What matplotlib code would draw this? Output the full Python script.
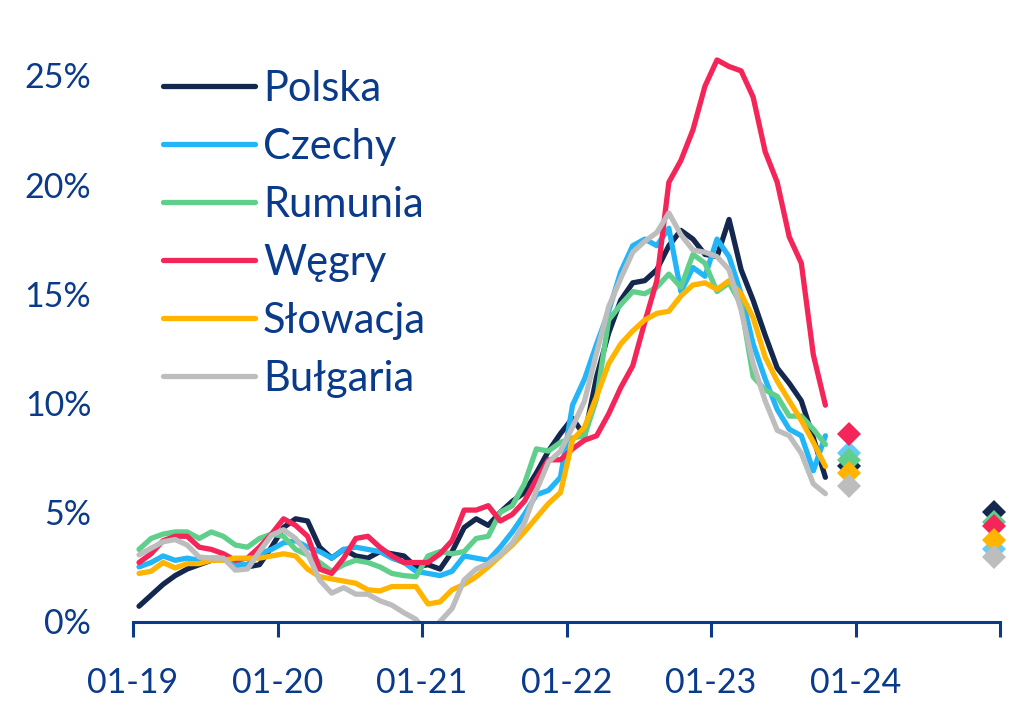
import matplotlib
matplotlib.use('Agg')
import matplotlib.pyplot as plt

plt.rcParams['font.family'] = ['Lato', 'DejaVu Sans']

# inflacja r/r w %, miesiecznie od 01-2019 do 10-2023
kraje = ['Polska', 'Czechy', 'Rumunia', 'Węgry', 'Słowacja', 'Bułgaria']

polska = [0.7, 1.2, 1.7, 2.1, 2.4, 2.6, 2.8, 2.9, 2.6, 2.5, 2.6, 3.4,
          4.3, 4.7, 4.6, 3.4, 2.9, 3.3, 3.0, 2.9, 3.2, 3.1, 3.0, 2.5,
          2.6, 2.4, 3.2, 4.3, 4.7, 4.4, 5.0, 5.5, 5.9, 6.8, 7.8, 8.6,
          9.3, 8.5, 11.2, 13.2, 14.7, 15.5, 15.6, 16.1, 17.2, 17.9, 17.5, 16.8,
          16.7, 18.4, 16.1, 14.7, 13.1, 11.6, 10.9, 10.1, 8.4, 6.6]
czechy = [2.5, 2.7, 3.0, 2.8, 2.9, 2.8, 2.9, 2.9, 2.6, 2.6, 3.1, 3.3,
          3.6, 3.7, 3.4, 3.2, 2.9, 3.3, 3.4, 3.3, 3.2, 2.9, 2.7, 2.3,
          2.2, 2.1, 2.3, 3.0, 2.9, 2.8, 3.4, 4.1, 4.9, 5.8, 6.0, 6.6,
          9.9, 11.1, 12.7, 14.2, 16.0, 17.2, 17.5, 17.2, 18.0, 15.1, 16.2, 15.8,
          17.5, 16.7, 15.0, 12.7, 11.1, 9.7, 8.8, 8.5, 6.9, 8.5]
rumunia = [3.3, 3.8, 4.0, 4.1, 4.1, 3.8, 4.1, 3.9, 3.5, 3.4, 3.8, 4.0,
           3.9, 3.3, 3.05, 2.7, 2.3, 2.6, 2.8, 2.7, 2.5, 2.2, 2.1, 2.05,
           3.0, 3.2, 3.1, 3.2, 3.8, 3.9, 5.0, 5.3, 6.3, 7.9, 7.8, 8.2,
           8.4, 8.5, 10.2, 13.8, 14.5, 15.1, 15.0, 15.3, 15.9, 15.3, 16.8, 16.4,
           15.1, 15.5, 14.5, 11.2, 10.6, 10.3, 9.4, 9.4, 8.8, 8.1]
wegry = [2.7, 3.1, 3.7, 3.9, 3.9, 3.4, 3.3, 3.1, 2.8, 2.9, 3.4, 4.0,
         4.7, 4.4, 3.9, 2.4, 2.2, 2.9, 3.8, 3.9, 3.4, 3.0, 2.7, 2.7,
         2.7, 3.1, 3.7, 5.1, 5.1, 5.3, 4.6, 4.9, 5.5, 6.5, 7.4, 7.4,
         7.9, 8.3, 8.5, 9.5, 10.7, 11.7, 13.7, 15.6, 20.1, 21.1, 22.5, 24.5,
         25.7, 25.4, 25.2, 24.0, 21.5, 20.1, 17.6, 16.4, 12.2, 9.9]
slowacja = [2.2, 2.3, 2.7, 2.45, 2.65, 2.65, 2.8, 2.8, 2.9, 2.9, 2.9, 3.0,
            3.1, 3.0, 2.4, 2.05, 1.95, 1.85, 1.75, 1.45, 1.4, 1.6, 1.6, 1.6,
            0.8, 0.9, 1.45, 1.7, 2.05, 2.5, 3.0, 3.5, 4.1, 4.75, 5.4, 5.9,
            8.3, 8.9, 10.3, 11.8, 12.7, 13.3, 13.8, 14.1, 14.2, 14.9, 15.4, 15.5,
            15.2, 15.6, 15.0, 13.9, 12.1, 11.0, 10.1, 9.2, 8.2, 7.1]
bulgaria = [3.05, 3.35, 3.65, 3.75, 3.5, 2.95, 2.9, 2.9, 2.35, 2.4, 3.2, 3.95,
            4.2, 3.8, 3.1, 1.9, 1.3, 1.55, 1.25, 1.25, 0.95, 0.75, 0.4, 0.1,
            -0.6, 0.0, 0.6, 1.9, 2.4, 2.65, 3.05, 3.6, 4.5, 6.0, 7.3, 7.8,
            8.9, 10.1, 12.3, 14.4, 15.7, 16.9, 17.4, 17.8, 18.7, 17.7, 17.0, 16.9,
            16.7, 16.1, 14.25, 11.8, 10.1, 8.75, 8.5, 7.7, 6.3, 5.85]

# prognozy: grudzien 2023 i grudzien 2024
prog_2023 = [7.1, 7.7, 7.4, 8.6, 6.8, 6.2]
prog_2024 = [5.0, 3.3, 4.55, 4.35, 3.75, 2.95]

etykiety_x = ['01-19', '01-20', '01-21', '01-22', '01-23', '01-24', '']
y_ticks = [0, 5, 10, 15, 20, 25]

serie = [polska, czechy, rumunia, wegry, slowacja, bulgaria]
kolory = ['#14284F', '#22B5F8', '#5FCF8B', '#F42559', '#FFB400', '#BDBDBD']
kolory_prog = ['#14284F', '#66CCF5', '#5FCF8B', '#F42559', '#FFB400', '#BDBDBD']
granat = '#0A3A8A'

fig = plt.figure(figsize=(10.13, 7.15), dpi=100)
ax = fig.add_axes([133 / 1013, (715 - 621.5) / 715, 867 / 1013, 27 * 21.85 / 715])

for nazwa, dane, kol in zip(kraje, serie, kolory):
    ax.plot(range(len(dane)), dane, color=kol, lw=3.8, label=nazwa,
            solid_capstyle='round', solid_joinstyle='round')

for i in range(len(kraje)):
    ax.plot([59], [prog_2023[i]], marker='D', ms=12.5, color=kolory_prog[i],
            mew=0, ls='none', clip_on=False)
    ax.plot([71], [prog_2024[i]], marker='D', ms=12.5, color=kolory_prog[i],
            mew=0, ls='none', clip_on=False)

ax.set_xlim(-0.5, 71.5)
ax.set_ylim(0, 27)
ax.set_xticks([-0.5 + 12 * k for k in range(7)])
ax.set_xticklabels(etykiety_x)
ax.set_yticks(y_ticks)
ax.set_yticklabels([f'{v}%' for v in y_ticks])

for s in ['left', 'top', 'right']:
    ax.spines[s].set_visible(False)
ax.spines['bottom'].set_color(granat)
ax.spines['bottom'].set_linewidth(2.2)

ax.tick_params(axis='x', direction='out', length=10.5, width=2.2, color=granat,
               pad=22, labelsize=24.5, labelcolor=granat)
ax.tick_params(axis='y', length=0, pad=30, labelsize=24.5, labelcolor=granat)

leg = ax.legend(loc='upper left', bbox_to_anchor=(0.161, 0.902),
                bbox_transform=fig.transFigure, frameon=False, fontsize=30,
                handlelength=2.2, handletextpad=0.2, labelspacing=0.48,
                borderpad=0, borderaxespad=0)
for t in leg.get_texts():
    t.set_color(granat)

fig.savefig('out.png', dpi=100)
